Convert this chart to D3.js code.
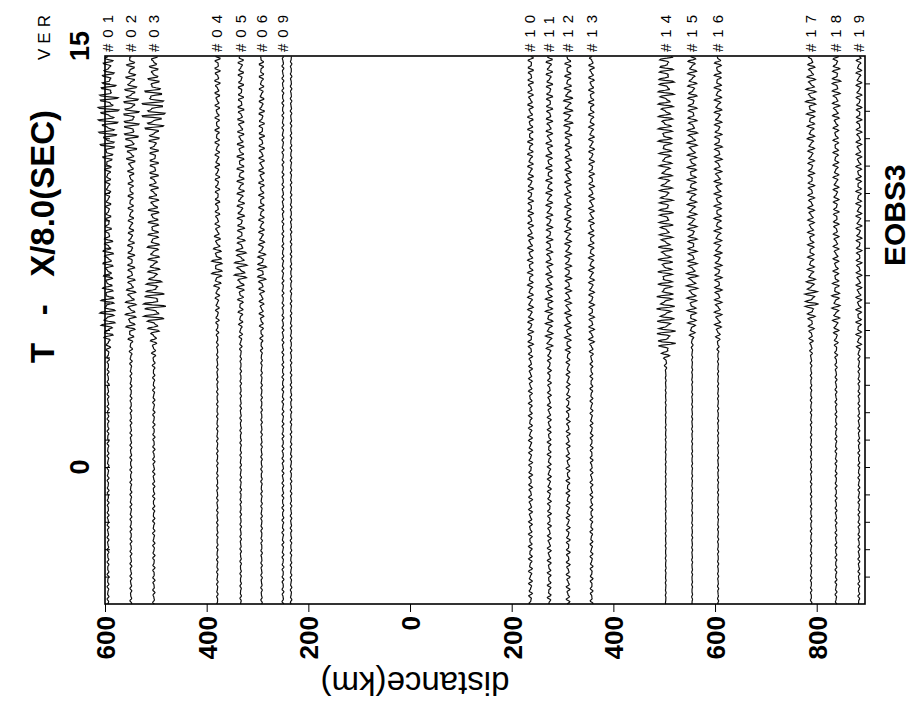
<!DOCTYPE html>
<html><head><meta charset="utf-8">
<script src="https://cdn.jsdelivr.net/npm/d3@7"></script>
<style>
body{margin:0;background:#fff}
svg{display:block}
text{font-family:"Liberation Sans",Arial,Helvetica,sans-serif;fill:#000}
</style></head>
<body><svg id="c" width="915" height="706"></svg>
<script>
// ---- data ----
const stationLabels = ["01","02","03","04","05","06","09","10","11","12","13","14","15","16","17","18","19"];
const stationDist   = [-594,-549,-504,-379,-333,-292,-250,237,274,311,357,503,555,606,789,838,883]; // km (west negative)
const extraTraceDist = [-234];
const distTicks = [-600,-400,-200,0,200,400,600,800];
const timeLabels = [0,15];
const timeTicks = [-4,-3,-2,-1,0,1,2,3,4,5,6,7,8,9,10,11,12,13,14];
// envelope time samples: -5 .. 15 every 0.5 s (41 values)
const envTimes = [-5,-4.5,-4,-3.5,-3,-2.5,-2,-1.5,-1,-0.5,0,0.5,1,1.5,2,2.5,3,3.5,4,4.5,5,5.5,6,6.5,7,7.5,8,8.5,9,9.5,10,10.5,11,11.5,12,12.5,13,13.5,14,14.5,15];
// amplitude envelopes (px of deflection) read from the record section
const env01=[1,1,1,1,1,1,1,1,1,1,1,1,1,1,1,1,1,1,1.5,3,7,9,8,6,5,6,6,4,3,3,3,3,4,7,10,11,12,11,8,6,5];
const env02=[1,1,1,1,1,1,1,1,1,1,1,1,1,1,1,1,1,1,1.5,2,5,6,6,5,4,4,4,3,3,3,3,3,4,6,8,9,9,8,6,5,4];
const env03=[1.2,1.2,1.2,1.2,1.2,1.2,1.2,1.2,1.2,1.2,1.2,1.2,1.2,1.2,1.2,1.2,1.2,1.2,2,3,6,12,13,10,7,6,7,6,6,6,5,5,5,5,6,12,14,12,7,5,4];
const env04=[0.8,0.8,0.8,0.8,0.8,0.8,0.8,0.8,0.8,0.8,0.8,0.8,0.8,0.8,0.8,0.8,0.8,0.8,0.8,1,1.5,2,2,3,6,6,4,3,2.5,2.5,2.5,2.5,2.5,2.5,2.5,2.5,2.5,2.5,3,3,3];
const env05=[0.8,0.8,0.8,0.8,0.8,0.8,0.8,0.8,0.8,0.8,0.8,0.8,0.8,0.8,0.8,0.8,0.8,0.8,0.8,1.5,2,2.5,3,4,7,7,5,4,4,4,4,4,4,4,3.5,3.5,3.5,3,3,3,3];
const env06=[0.8,0.8,0.8,0.8,0.8,0.8,0.8,0.8,0.8,0.8,0.8,0.8,0.8,0.8,0.8,0.8,0.8,0.8,0.8,1.5,2,2.5,2.5,3,5,5,3.5,3,3,3,3,3,3,3,3,3,3,2.5,2.5,2.5,2.5];
const env09=[1,1,1,1,1,1,1,1,1,1,1,1,1,1,1,1,1,1,1,1,1,1,1,1,1,1,1,1,1,1,1,1,1,1,1,1,1,1,1,1,1];
const env10=[2,2,2,2,2,2,2,2,2,2,2,2,2,2,2,2,2,2,2,3,3,3,3,3,3,3,3,3,3,3,3,3,3,3,3,3,3,3,3,3,3];
const env11=[2,2,2,2,2,2,2,2,2,2,2,2,2,2,2,2,2,2,2,4,4,4,4,3.5,3.5,3.5,3.5,3.5,3.5,3.5,3.5,3.5,3.5,3.5,3.5,3.5,3.5,3.5,3.5,3.5,3.5];
const env12=[2,2,2,2,2,2,2,2,2,2,2,2,2,2,2,2,2,2,2,3.5,3.5,3.5,3.5,3.5,3.5,3.5,3.5,3.5,3.5,3.5,3.5,3.5,3.5,3.5,3.5,5,5,5,3.5,3.5,3.5];
const env13=[1.5,1.5,1.5,1.5,1.5,1.5,1.5,1.5,1.5,1.5,1.5,1.5,1.5,1.5,1.5,1.5,1.5,1.5,1.5,3,3,3,3,3,3,3,3,3,3,3,3,3,3,3,3,3,3,3,3,3,3];
const env14=[0.4,0.4,0.4,0.4,0.4,0.4,0.4,0.4,0.4,0.4,0.4,0.4,0.4,0.4,0.4,0.4,0.4,0.4,3,10,10,9,10,8,8,8,8,7,8,8,7,7,7,7,8,8,8,9,9,8,7];
const env15=[0.5,0.5,0.5,0.5,0.5,0.5,0.5,0.5,0.5,0.5,0.5,0.5,0.5,0.5,0.5,0.5,0.5,0.5,0.5,1,4,5,5,6,6,5,5,5,5,5,5,5,5,5,6,5,5,5,5,5,4];
const env16=[0.6,0.6,0.6,0.6,0.6,0.6,0.6,0.6,0.6,0.6,0.6,0.6,0.6,0.6,0.6,0.6,0.6,0.6,0.6,1.5,3.5,4,4,4,4,4,4,4,4,4,4,4,4,4.5,4,4,4,4,4,4,3.5];
const env17=[0.8,0.8,0.8,0.8,0.8,0.8,0.8,0.8,0.8,0.8,0.8,0.8,0.8,0.8,0.8,0.8,0.8,0.8,1,2,3,4,8,6,4,3.5,3.5,3.5,3.5,3.5,3.5,3.5,3.5,3.5,4,4,5,6,5,4,3.5];
const env18=[1,1,1,1,1,1,1,1,1,1,1,1,1,1,1,1,1,1,1.5,2,3,4,4.5,4,3,3,3,3,3,3,3,3,3,3,3,3,4,4,5,4,3];
const env19=[1,1,1,1,1,1,1,1,1,1,1,1,1,1,1,1,1,1,1,3,3,3,3,3,3,3,3,3,3,3,3,3,3,3,3,3,3,3,3,3,2.5];
const envExtra=[0.8,0.8,0.8,0.8,0.8,0.8,0.8,0.8,0.8,0.8,0.8,0.8,0.8,0.8,0.8,0.8,0.8,0.8,0.8,0.8,0.8,0.8,0.8,0.8,0.8,0.8,0.8,0.8,0.8,0.8,0.8,0.8,0.8,0.8,0.8,0.8,0.8,0.8,0.8,0.8,0.8];
const envelopes=[env01,env02,env03,env04,env05,env06,env09,env10,env11,env12,env13,env14,env15,env16,env17,env18,env19];

// ---- chart ----
const svg = d3.select("#c");
const x = d3.scaleLinear().domain([-600, 895]).range([105, 865]);
const y = d3.scaleLinear().domain([-5, 15]).range([604, 56]);
const envAt = (env) => d3.scaleLinear().domain(envTimes).range(env);

// traces
const sampleT = d3.range(-5, 15.0001, 0.03);
function tracePath(dist, env, k){
  const e = envAt(env);
  const ph = k*1.37;
  const line = d3.line()
    .x(t => x(dist) + e(t) * (0.62*Math.sin(2*Math.PI*4.4*t + ph) + 0.38*Math.sin(2*Math.PI*6.7*t + 2.1*ph)))
    .y(t => y(t));
  return line(sampleT);
}
const g = svg.append("g");
stationDist.forEach((d,i)=>{
  g.append("path").attr("d", tracePath(d, envelopes[i], i)).attr("fill","none").attr("stroke","#111").attr("stroke-width",1.2);
});
extraTraceDist.forEach((d,i)=>{
  g.append("path").attr("d", tracePath(d, envExtra, 30+i)).attr("fill","none").attr("stroke","#111").attr("stroke-width",1.2);
});

// frame
svg.append("rect").attr("x", x(-600)).attr("y", y(15)).attr("width", x(895)-x(-600)).attr("height", y(-5)-y(15))
  .attr("fill","none").attr("stroke","#000").attr("stroke-width",1.6);

// time ticks left (inward) and right (outward)
const lt = d3.axisRight(y).tickValues(timeTicks).tickSize(5).tickFormat("");
svg.append("g").attr("transform",`translate(${x(-600)},0)`).call(lt).call(s=>s.select(".domain").remove());
const rt = d3.axisRight(y).tickValues(timeTicks).tickSize(5).tickFormat("");
svg.append("g").attr("transform",`translate(${x(895)},0)`).call(rt).call(s=>s.select(".domain").remove());

// time labels
timeLabels.forEach(t=>{
  svg.append("text").attr("transform",`translate(89,${y(t) + (t===15?-10:0)}) rotate(-90)`)
    .attr("text-anchor","middle").attr("font-size",27).attr("font-weight","bold").text(t);
});

// distance axis
const xa = d3.axisBottom(x).tickValues(distTicks).tickSize(8).tickFormat(d=>Math.abs(d));
const xg = svg.append("g").attr("transform",`translate(0,${y(-5)})`).call(xa);
xg.select(".domain").remove();
xg.selectAll("text").attr("transform","rotate(-90)").attr("x",-12).attr("y",0).attr("dy","0.36em")
  .attr("text-anchor","end").attr("font-size",26).attr("font-weight","bold").attr("font-family","Liberation Sans, Arial, sans-serif").attr("fill","#000");
xg.selectAll("line").attr("stroke","#000");

// station labels
stationDist.forEach((d,i)=>{
  svg.append("text").attr("transform",`translate(${x(d)+5},52) rotate(-90)`)
    .attr("text-anchor","start").attr("font-size",15).attr("letter-spacing","6px").text("#"+stationLabels[i]);
});

// titles
svg.append("text").attr("transform","translate(54,363) rotate(-90)").attr("font-size",33).attr("font-weight","bold")
  .attr("xml:space","preserve").style("white-space","pre").text("T   -   X/8.0(SEC)");
svg.append("text").attr("transform","translate(50,60) rotate(-90)").attr("font-size",17).attr("letter-spacing","5px").text("VER");
svg.append("text").attr("transform","translate(905,266) rotate(-90)").attr("font-size",30).attr("font-weight","bold").text("EOBS3");
svg.append("text").attr("transform","translate(415,672) rotate(180)").attr("text-anchor","middle").attr("font-size",33).text("distance(km)");
</script></body></html>
